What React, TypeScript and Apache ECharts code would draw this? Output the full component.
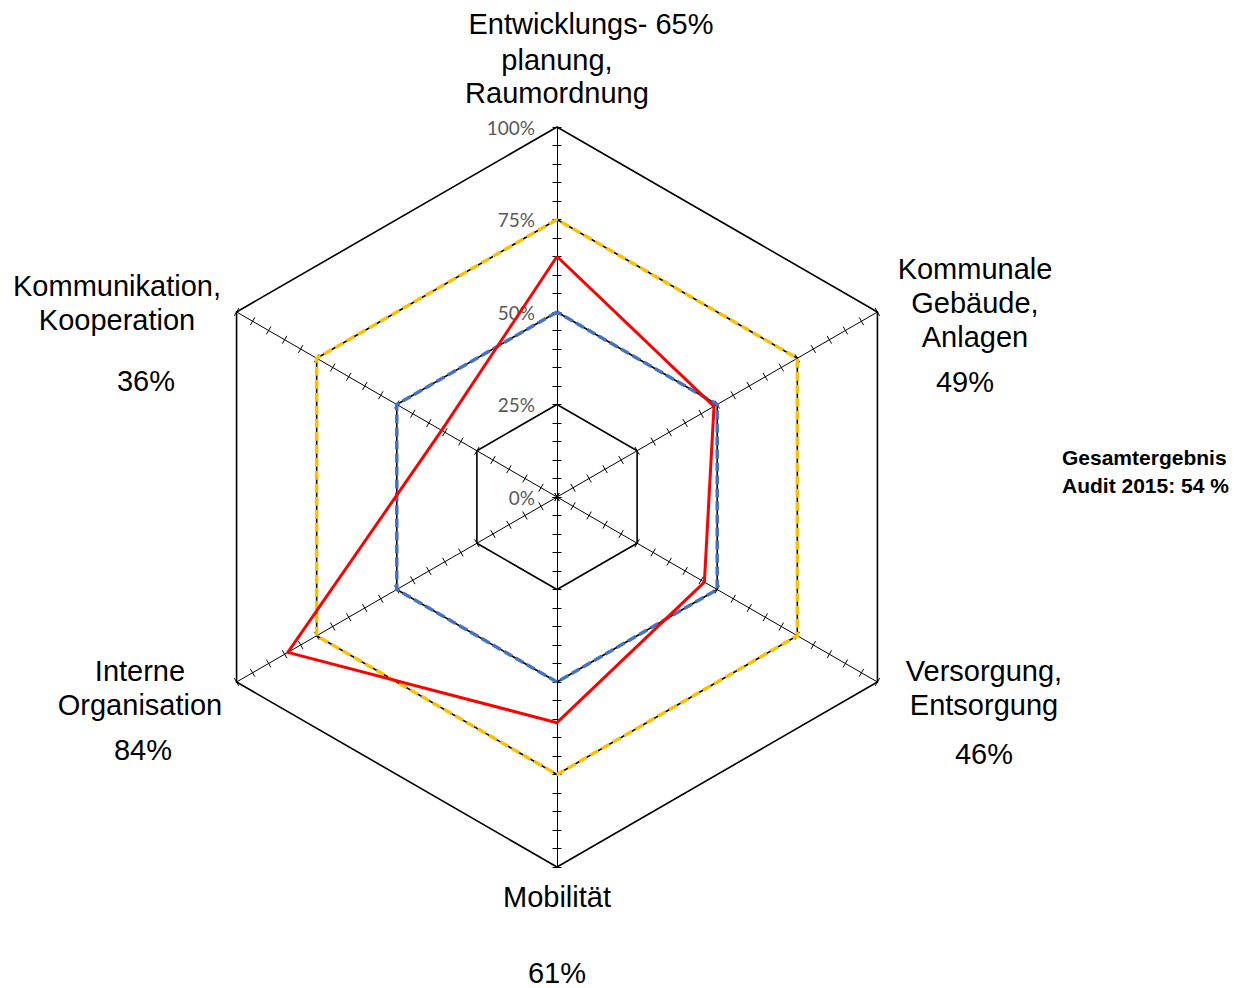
import React, { useEffect, useRef } from "react";
import * as echarts from "echarts";

// Handlungsfelder (clockwise from the top) and their audit results in %
const categories = [
  "Entwicklungsplanung, Raumordnung",
  "Kommunale Gebäude, Anlagen",
  "Versorgung, Entsorgung",
  "Mobilität",
  "Interne Organisation",
  "Kommunikation, Kooperation",
];
const auditValues = [65, 49, 46, 61, 84, 36];
const thresholdLow = [50, 50, 50, 50, 50, 50];
const thresholdHigh = [75, 75, 75, 75, 75, 75];
const totalResult = 54;
const auditYear = 2015;

// ECharts lays radar indicators out counter-clockwise, so reorder
const order = [0, 5, 4, 3, 2, 1];
const byOrder = (arr: number[]) => order.map((i) => arr[i]);

const CX = 557;
const CY = 497;
const R = 370;

const FONT = '"Liberation Sans", Arial, sans-serif';

function label(text: string, x: number, y: number, lineHeight = 34) {
  return {
    type: "text",
    style: {
      text,
      x,
      y,
      fontSize: 29,
      fontFamily: FONT,
      fill: "#000",
      align: "center",
      verticalAlign: "middle",
      lineHeight,
    },
  };
}

export default function App() {
  const ref = useRef<HTMLDivElement>(null);

  useEffect(() => {
    if (!ref.current) return;
    const chart = echarts.init(ref.current, null, { renderer: "svg" });

    const indicatorsBase = order.map((i) => ({ name: categories[i], min: 0, max: 100 }));
    const pct = (i: number) => `${auditValues[i]}%`;

    const option: any = {
      animation: false,
      backgroundColor: "#fff",
      radar: [
        {
          center: [CX, CY],
          radius: R,
          shape: "polygon",
          splitNumber: 4,
          axisName: { show: false },
          axisLine: { show: true, lineStyle: { color: "#000", width: 1 } },
          splitLine: { show: true, lineStyle: { color: "#000", width: 1.6 } },
          splitArea: { show: false },
          axisTick: { show: false },
          axisLabel: { show: false },
          indicator: indicatorsBase.map((ind, k) =>
            k === 0
              ? {
                  ...ind,
                  axisLabel: {
                    show: true,
                    formatter: "{value}%",
                    color: "#595959",
                    fontSize: 19,
                    fontFamily: "Lato, sans-serif",
                    margin: 22,
                  },
                }
              : ind
          ),
        },
        {
          center: [CX, CY],
          radius: R,
          shape: "polygon",
          splitNumber: 20,
          axisName: { show: false },
          axisLine: { show: false },
          splitLine: { show: false },
          splitArea: { show: false },
          axisLabel: { show: false },
          axisTick: { show: true, length: 4.5, lineStyle: { color: "#000", width: 1 } },
          indicator: indicatorsBase,
        },
        {
          center: [CX, CY],
          radius: R,
          shape: "polygon",
          splitNumber: 20,
          axisName: { show: false },
          axisLine: { show: false },
          splitLine: { show: false },
          splitArea: { show: false },
          axisLabel: { show: false },
          axisTick: { show: true, length: -4.5, lineStyle: { color: "#000", width: 1 } },
          indicator: indicatorsBase,
        },
      ],
      series: [
        {
          type: "radar",
          radarIndex: 0,
          symbol: "none",
          z: 3,
          data: [
            {
              name: "Schwelle 50 %",
              value: byOrder(thresholdLow),
              lineStyle: { color: "#4472C4", width: 3.5, type: [9, 4] },
            },
            {
              name: "Schwelle 75 %",
              value: byOrder(thresholdHigh),
              lineStyle: { color: "#FFC000", width: 3.5, type: [9, 4] },
            },
          ],
        },
        {
          type: "radar",
          radarIndex: 0,
          symbol: "none",
          z: 4,
          data: [
            {
              name: `Audit ${auditYear}`,
              value: byOrder(auditValues),
              lineStyle: { color: "#FF0000", width: 3 },
            },
          ],
        },
      ],
      graphic: [
        label(`Entwicklungs- ${pct(0)}`, 591, 24),
        label("planung,", 557, 60),
        label("Raumordnung", 557, 93),
        label("Kommunale\nGebäude,\nAnlagen", 975, 303),
        label(pct(1), 965, 382),
        label("Versorgung,\nEntsorgung", 984, 688),
        label(pct(2), 984, 754),
        label("Mobilität", 557, 897),
        label(pct(3), 557, 973, 28),
        label("Interne\nOrganisation", 140, 688),
        label(pct(4), 143, 750),
        label("Kommunikation,\nKooperation", 117, 303),
        label(pct(5), 146, 381),
        {
          type: "text",
          style: {
            text: `Gesamtergebnis\nAudit ${auditYear}: ${totalResult} %`,
            x: 1062,
            y: 471,
            fontSize: 21,
            fontWeight: "bold",
            fontFamily: FONT,
            fill: "#000",
            align: "left",
            verticalAlign: "middle",
            lineHeight: 28,
          },
        },
      ],
    };

    chart.setOption(option);
    return () => chart.dispose();
  }, []);

  return (
    <div
      ref={ref}
      style={{ position: "absolute", left: 0, top: 0, width: 1241, height: 988 }}
    />
  );
}
